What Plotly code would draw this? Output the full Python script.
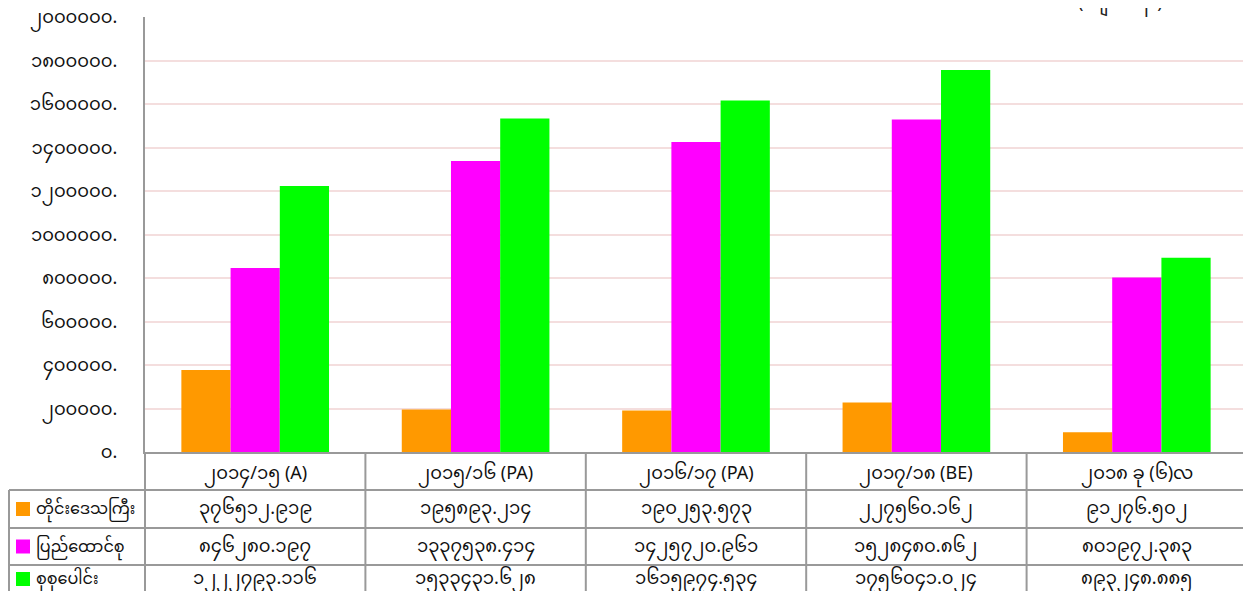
import plotly.graph_objects as go

# Data
categories = ['၂၀၁၄/၁၅ (A)', '၂၀၁၅/၁၆ (PA)', '၂၀၁၆/၁၇ (PA)', '၂၀၁၇/၁၈ (BE)', '၂၀၁၈ ခု (၆)လ']
series_names = ['တိုင်းဒေသကြီး', 'ပြည်ထောင်စု', 'စုစုပေါင်း']
region_values = [376512.919, 195893.214, 190253.573, 227560.162, 91276.502]
union_values = [846280.197, 1337538.414, 1425720.961, 1528480.862, 801972.383]
total_values = [1222793.116, 1533431.628, 1615974.534, 1756041.024, 893248.885]
y_ticks = [0, 200000, 400000, 600000, 800000, 1000000, 1200000, 1400000, 1600000, 1800000, 2000000]
unit_label = '(ကျပ်သန်း)'

COLORS = ['#ff9900', '#ff00ff', '#00ff00']
GRID = '#f4dede'
BORDER = '#999999'
FONT = 'Noto Sans Myanmar, Padauk, Myanmar Text, Noto Sans, DejaVu Sans'

# page body has an 8px margin, so the figure is drawn from (8, 8)
OFF = 8
W, H = 1243, 583
L, R, T, B = 145 - OFF, 4, 17 - OFF, 583 - (452 - OFF)
PW, PH = W - L - R, H - T - B


def my_digits(s):
    return str(s).translate(str.maketrans('0123456789', '၀၁၂၃၄၅၆၇၈၉'))


def px(xpix):
    # reference pixel -> paper x
    return (xpix - OFF - L) / PW


def py(ypix):
    # reference pixel -> paper y
    return (H - B - (ypix - OFF)) / PH


fig = go.Figure()
all_values = [region_values, union_values, total_values]
for name, vals, col in zip(series_names, all_values, COLORS):
    fig.add_trace(go.Bar(x=categories, y=vals, name=name, marker_color=col,
                         marker_line_width=0, showlegend=False))

# data table below the plot
row_tops = [452, 490, 528, 565, 605]
row_mids = [471, 509, 546.5, 579]
line = dict(color=BORDER, width=2)
shapes = []
shapes.append(dict(type='line', xref='paper', yref='paper', x0=0, x1=1,
                   y0=py(row_tops[1]), y1=py(row_tops[1]), line=line))
for yy in row_tops[1:4]:
    shapes.append(dict(type='line', xref='paper', yref='paper', x0=px(9), x1=1,
                       y0=py(yy), y1=py(yy), line=line))
for i in range(len(categories) + 1):
    xx = i / len(categories)
    shapes.append(dict(type='line', xref='paper', yref='paper', x0=xx, x1=xx,
                       y0=0, y1=py(row_tops[-1]), line=line))
shapes.append(dict(type='line', xref='paper', yref='paper', x0=px(9), x1=px(9),
                   y0=py(row_tops[1]), y1=py(row_tops[-1]), line=line))

annotations = []
for c in categories:
    annotations.append(dict(x=c, xref='x', yref='paper', y=py(row_mids[0]),
                            yshift=-25, text=c, showarrow=False, font=dict(size=18, color='#111')))
for r, (name, vals, col) in enumerate(zip(series_names, all_values, COLORS)):
    ymid = py(row_mids[r + 1])
    for c, v in zip(categories, vals):
        annotations.append(dict(x=c, xref='x', yref='paper', y=ymid, yshift=-22,
                                text=my_digits(f'{v:.3f}'), showarrow=False,
                                font=dict(size=18, color='#111')))
    shapes.append(dict(type='rect', xref='paper', yref='paper', x0=px(16), x1=px(30),
                       y0=ymid - 7 / PH, y1=ymid + 7 / PH, fillcolor=col, line=dict(width=0)))
    annotations.append(dict(x=px(34), xref='paper', yref='paper', y=ymid, yshift=-21, text=name,
                            xanchor='left', showarrow=False, font=dict(size=16, color='#111')))

# unit label sits above the top edge, only its lowest strokes show
annotations.append(dict(x=px(1165), xref='paper', yref='paper', y=py(20), yshift=38,
                        text=unit_label, showarrow=False, font=dict(size=18, color='#222')))

fig.update_layout(
    width=W, height=H,
    margin=dict(l=L, r=R, t=T, b=B, autoexpand=False),
    plot_bgcolor='white', paper_bgcolor='white',
    font=dict(family=FONT, size=17, color='#111'),
    barmode='group', bargap=0.33, bargroupgap=0,
    xaxis=dict(showticklabels=False, showgrid=False, showline=True, automargin=False,
               linecolor=BORDER, linewidth=2, ticks=''),
    yaxis=dict(range=[0, 2000000], tickvals=y_ticks, automargin=False,
               ticktext=[my_digits(t) + '.' for t in y_ticks], ticklabeloverflow='allow',
               showgrid=True, gridcolor=GRID, gridwidth=2, zeroline=False,
               showline=True, linecolor=BORDER, linewidth=2, ticks='',
               ticklabelstandoff=22, tickfont=dict(size=18, color='#111')),
    shapes=shapes, annotations=annotations,
)

fig.write_html('out.html')
